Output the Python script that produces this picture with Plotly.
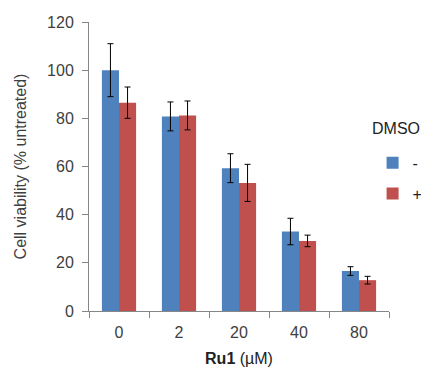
import plotly.graph_objects as go

categories = ["0", "2", "20", "40", "80"]
dmso_minus = [100, 80.8, 59.3, 33.0, 16.6]
dmso_minus_err = [11, 6, 6, 5.5, 1.8]
dmso_plus = [86.5, 81.2, 53.2, 29.1, 12.8]
dmso_plus_err = [6.5, 6, 7.7, 2.4, 1.6]
y_ticks = [0, 20, 40, 60, 80, 100, 120]

BLUE = "#4F81BD"
RED = "#C0504D"
FONT = "Liberation Sans, Arial, sans-serif"
TXT = "#404040"
AX = "#868686"

fig = go.Figure()
fig.add_trace(go.Bar(
    x=categories, y=dmso_minus, name="-", marker=dict(color=BLUE, line=dict(width=0)),
    error_y=dict(type="data", array=dmso_minus_err, color="#000000", thickness=1, width=3),
    legendgroup="a",
))
fig.add_trace(go.Bar(
    x=categories, y=dmso_plus, name="+", marker=dict(color=RED, line=dict(width=0)),
    error_y=dict(type="data", array=dmso_plus_err, color="#000000", thickness=1, width=3),
    legendgroup="b",
))

fig.update_layout(
    width=421, height=369,
    margin=dict(l=89, r=32, t=22, b=58, pad=0, autoexpand=False),
    paper_bgcolor="white", plot_bgcolor="white",
    barmode="group", bargap=0.43, bargroupgap=0,
    font=dict(family=FONT, size=16, color=TXT),
    showlegend=True,
    legend=dict(
        xref="container", yref="container",
        x=0.885, y=0.605, xanchor="left", yanchor="top",
        font=dict(size=16, color="#222222"),
        tracegroupgap=7, bgcolor="rgba(0,0,0,0)",
    ),
    annotations=[dict(
        text="DMSO", xref="paper", yref="paper", x=0.936, y=0.633,
        xanchor="left", yanchor="middle", showarrow=False,
        font=dict(size=16, color="#222222"),
    )],
    xaxis=dict(
        type="category", showline=True, linecolor=AX, linewidth=1,
        ticks="outside", ticklen=6, tickcolor=AX, tickson="boundaries",
        ticklabelstandoff=7,
        showgrid=False, zeroline=False, automargin=False,
        tickfont=dict(size=16, color=TXT),
        title=dict(text="<b>Ru1</b> (µM)", font=dict(size=16, color="#222222"), standoff=12),
    ),
    yaxis=dict(
        range=[0, 120], tickvals=y_ticks, showline=True, linecolor=AX, linewidth=1,
        ticks="outside", ticklen=6, tickcolor=AX, ticklabelstandoff=5,
        showgrid=False, zeroline=False, automargin=False,
        tickfont=dict(size=16, color=TXT),
        title=dict(text="Cell viability (% untreated)", font=dict(size=16, color=TXT), standoff=16),
    ),
)

fig.write_html("out.html", config={"displayModeBar": False},
               post_script="document.body.style.margin='0';")
